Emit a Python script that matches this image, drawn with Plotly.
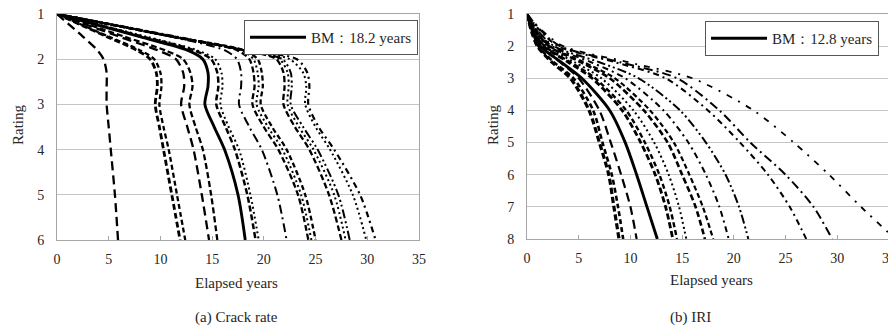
import plotly.graph_objects as go

# ---------------- (a) Crack rate ----------------
crack_ratings = [1, 1.5, 1.8, 2, 2.3, 2.6, 3, 3.5, 4, 5, 6]
crack_bm  = [0, 8.0, 12.6, 14.1, 14.6, 14.6, 14.3, 15.2, 16.2, 17.5, 18.2]
crack_c01 = [0, 2.5, 3.9, 4.5, 4.8, 4.8, 4.8, 5.0, 5.2, 5.6, 5.9]
crack_c02 = [0, 4.8, 7.7, 9.0, 9.6, 9.7, 9.5, 9.9, 10.3, 11.1, 11.9]
crack_c03 = [0, 5.0, 8.0, 9.4, 10.0, 10.1, 9.9, 10.3, 10.8, 11.6, 12.4]
crack_c04 = [0, 6.0, 9.7, 11.5, 12.2, 12.3, 12.0, 12.6, 13.2, 14.0, 14.7]
crack_c05 = [0, 6.5, 10.4, 12.2, 12.9, 13.1, 12.8, 13.4, 14.1, 14.9, 15.5]
crack_c06 = [0, 8.3, 13.2, 14.9, 15.5, 15.6, 15.4, 16.3, 17.2, 18.4, 19.2]
crack_c07 = [0, 8.6, 13.5, 15.3, 15.9, 16.0, 15.8, 16.6, 17.6, 18.7, 19.5]
crack_c08 = [0, 11.0, 16.2, 17.4, 17.8, 17.8, 17.6, 18.6, 19.8, 21.3, 22.2]
crack_c09 = [0, 11.1, 17.4, 18.6, 19.0, 19.1, 18.9, 20.0, 21.4, 23.3, 24.3]
crack_c10 = [0, 11.1, 17.8, 19.0, 19.4, 19.5, 19.3, 20.4, 21.8, 23.6, 24.6]
crack_c11 = [0, 11.1, 18.0, 19.4, 19.8, 19.9, 19.7, 20.8, 22.2, 24.0, 25.0]
crack_c12 = [0, 11.2, 18.0, 21.2, 21.9, 22.0, 21.9, 23.0, 24.4, 26.3, 27.5]
crack_c13 = [0, 11.2, 18.0, 21.5, 22.3, 22.4, 22.3, 23.4, 24.8, 26.8, 27.9]
crack_c14 = [0, 11.3, 18.0, 21.8, 22.6, 22.7, 22.6, 23.8, 25.2, 27.2, 28.3]
crack_c15 = [0, 11.4, 18.1, 22.5, 23.8, 24.1, 24.0, 25.0, 26.4, 28.6, 29.9]
crack_c16 = [0, 11.5, 18.2, 23.2, 24.2, 24.4, 24.3, 25.3, 26.8, 29.3, 30.8]
crack_bm_label = "BM：18.2 years"

# ---------------- (b) IRI ----------------
iri_ratings = [1, 1.5, 2, 2.5, 3, 4, 5, 6, 7, 8]
iri_bm  = [0, 0.5, 1.3, 3.3, 5.3, 8.0, 9.5, 10.6, 11.6, 12.6]
iri_c01 = [0, 0.4, 1.0, 2.4, 4.2, 6.0, 7.0, 7.9, 8.4, 8.9]
iri_c02 = [0, 0.5, 1.1, 2.6, 4.5, 6.4, 7.3, 8.2, 8.8, 9.3]
iri_c03 = [0, 0.5, 1.3, 3.2, 5.0, 7.0, 8.1, 9.1, 10.0, 10.6]
iri_c04 = [0, 0.6, 1.6, 4.0, 6.3, 9.2, 11.0, 12.4, 13.4, 14.1]
iri_c05 = [0, 0.6, 1.7, 4.2, 6.6, 9.6, 11.4, 12.8, 13.8, 14.5]
iri_c06 = [0, 0.7, 1.9, 4.6, 7.2, 10.3, 12.3, 13.7, 14.7, 15.4]
iri_c07 = [0, 0.8, 2.1, 5.2, 8.0, 11.3, 13.6, 15.0, 16.3, 17.2]
iri_c08 = [0, 0.8, 2.2, 5.5, 8.5, 11.9, 14.2, 15.7, 17.0, 18.0]
iri_c09 = [0, 0.9, 2.4, 6.2, 9.5, 13.2, 15.6, 17.3, 18.6, 19.5]
iri_c10 = [0, 1.0, 2.6, 7.0, 10.8, 14.8, 17.3, 19.2, 20.5, 21.4]
iri_c11 = [0, 1.2, 3.0, 8.5, 13.4, 17.5, 20.6, 23.3, 25.4, 27.0]
iri_c12 = [0, 1.3, 3.2, 9.0, 14.5, 18.6, 21.6, 25.0, 27.7, 29.5]
iri_c13 = [0, 1.4, 3.5, 9.8, 16.0, 21.9, 25.8, 29.2, 32.3, 35.6]
iri_bm_label = "BM：12.8 years"

x_ticks = [0, 5, 10, 15, 20, 25, 30, 35]
crack_y_ticks = [1, 2, 3, 4, 5, 6]
iri_y_ticks = [1, 2, 3, 4, 5, 6, 7, 8]

# line styles (dash pattern, width)
DASH = "6px,3px"
HDASH = "5px,3px"
LDASH = "9px,5px"
DOT = "2px,3px"
DDOT = "6px,4px,2px,4px"
LDDOT = "9px,4px,2px,4px"
LDD2 = "9px,3px,2px,3px,2px,3px"

crack_curves = [crack_c01, crack_c02, crack_c03, crack_c04, crack_c05, crack_c06,
                crack_c07, crack_c08, crack_c09, crack_c10, crack_c11, crack_c12,
                crack_c13, crack_c14, crack_c15, crack_c16]
crack_styles = [(LDASH, 2.3), (DASH, 2.8), (HDASH, 2.3), (LDASH, 2.3), (DASH, 2.3),
                (DASH, 2.5), (DOT, 2), (LDDOT, 2), (DASH, 2.3), (DOT, 2),
                (HDASH, 2.3), (DASH, 2.3), (DOT, 2), (LDD2, 2), (DOT, 2), (DDOT, 2.2)]

iri_curves = [iri_c01, iri_c02, iri_c03, iri_c04, iri_c05, iri_c06, iri_c07,
              iri_c08, iri_c09, iri_c10, iri_c11, iri_c12, iri_c13]
iri_styles = [(DASH, 3.2), (HDASH, 2.6), (LDASH, 2.2), (DASH, 2.8), (HDASH, 2.4),
              (DOT, 2), (DASH, 2.6), (HDASH, 2.2), (DDOT, 2), (LDD2, 2),
              (DDOT, 2), (LDDOT, 2), ("6px,7px,2px,7px", 1.8)]

FONT = "Liberation Serif"
TXT = "#262626"
GRID = "#c4c4c4"
AXL = "#a6a6a6"

fig = go.Figure()

for xs, (dash, w) in zip(crack_curves, crack_styles):
    fig.add_trace(go.Scatter(x=xs, y=crack_ratings, mode="lines", xaxis="x", yaxis="y",
                             line=dict(color="black", width=w, dash=dash, shape="spline", smoothing=0.8),
                             showlegend=False, hoverinfo="skip"))
fig.add_trace(go.Scatter(x=crack_bm, y=crack_ratings, mode="lines", xaxis="x", yaxis="y",
                         name=crack_bm_label, legend="legend",
                         line=dict(color="black", width=2.9, shape="spline", smoothing=0.8)))

for xs, (dash, w) in zip(iri_curves, iri_styles):
    fig.add_trace(go.Scatter(x=xs, y=iri_ratings, mode="lines", xaxis="x2", yaxis="y2",
                             line=dict(color="black", width=w, dash=dash, shape="spline", smoothing=0.8),
                             showlegend=False, hoverinfo="skip"))
fig.add_trace(go.Scatter(x=iri_bm, y=iri_ratings, mode="lines", xaxis="x2", yaxis="y2",
                         name=iri_bm_label, legend="legend2",
                         line=dict(color="black", width=2.9, shape="spline", smoothing=0.8)))

# the page body adds an 8px offset; positions below are reference pixels minus 8
OFF = 8
W, H = 896 - OFF, 329 - OFF
def px(v): return (v - OFF) / W
def py(v): return 1 - (v - OFF) / H

xaxis_common = dict(range=[0, 35], tickvals=x_ticks, ticks="inside", ticklen=4, tickcolor=AXL,
                    showline=True, linecolor=AXL, linewidth=1, mirror=True, showgrid=False,
                    zeroline=False, tickfont=dict(family=FONT, size=14, color=TXT),
                    ticklabelstandoff=6, fixedrange=True, automargin=False,
                    ticklabeloverflow="allow")
yaxis_common = dict(showline=True, linecolor=AXL, linewidth=1, mirror=True, showgrid=True,
                    gridcolor=GRID, gridwidth=1, zeroline=False, ticks="",
                    tickfont=dict(family=FONT, size=14, color=TXT), ticklabelstandoff=9,
                    fixedrange=True, automargin=False, ticklabeloverflow="allow")

legend_common = dict(xanchor="right", yanchor="top", bgcolor="white", bordercolor="#555",
                     borderwidth=1, itemwidth=56,
                     font=dict(family=FONT, size=15, color=TXT))

def label(text, x, y, angle=0):
    return dict(text=text, x=px(x), y=py(y), xref="paper", yref="paper", showarrow=False,
                xanchor="center", yanchor="middle", textangle=angle,
                font=dict(family=FONT, size=15, color=TXT))

fig.update_layout(
    width=W, height=H,
    margin=dict(l=0, r=0, t=0, b=0, autoexpand=False),
    paper_bgcolor="white", plot_bgcolor="white",
    font=dict(family=FONT, color=TXT),
    xaxis=dict(domain=[px(57), px(419)], anchor="y", **xaxis_common),
    yaxis=dict(domain=[py(240), py(14)], anchor="x", range=[6, 1], tickvals=crack_y_ticks,
               **yaxis_common),
    xaxis2=dict(domain=[px(527), px(889)], anchor="y2", **xaxis_common),
    yaxis2=dict(domain=[py(239), py(14)], anchor="x2", range=[8, 1], tickvals=iri_y_ticks,
                **yaxis_common),
    legend=dict(x=px(418), y=py(20), **legend_common),
    legend2=dict(x=px(879), y=py(21), **legend_common),
    annotations=[
        label("Rating", 18, 125, -90),
        label("Rating", 493, 125, -90),
        label("Elapsed years", 236, 283),
        label("Elapsed years", 711, 280),
        label("(a) Crack rate", 236, 317),
        label("(b) IRI", 690, 317),
    ],
)

fig.write_html("out.html")
